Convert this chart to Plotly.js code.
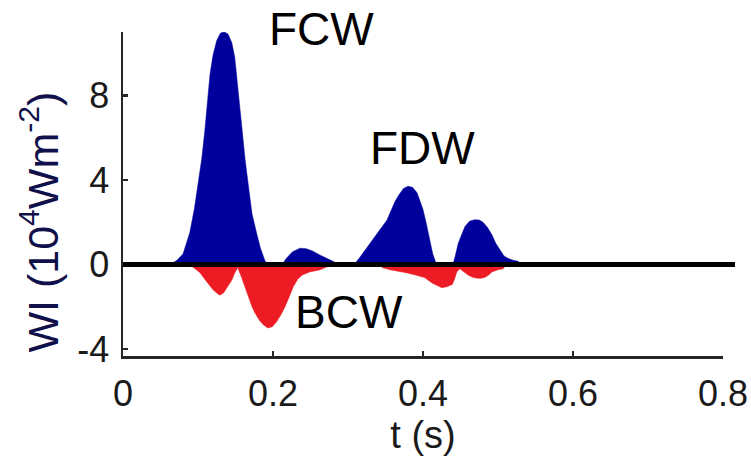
<!DOCTYPE html>
<html>
<head>
<meta charset="utf-8">
<script src="https://cdn.plot.ly/plotly-3.0.1.min.js"></script>
<style>html,body{margin:0;padding:0;background:#fff;}#chart{width:751px;height:466px;}</style>
</head>
<body>
<div id="chart"></div>
<script>
// Forward waves (positive, blue)
const tForward = [0.0,0.06,0.065,0.072,0.08,0.089,0.095,0.1,0.105,0.109,0.113,0.116,0.12,0.125,0.13,0.135,0.14,0.145,0.149,0.153,0.156,0.16,0.163,0.168,0.172,0.178,0.183,0.189,0.193,0.212,0.218,0.226,0.236,0.244,0.252,0.263,0.272,0.28,0.287,0.308,0.315,0.324,0.333,0.342,0.352,0.358,0.363,0.368,0.374,0.38,0.386,0.392,0.397,0.4,0.404,0.407,0.41,0.413,0.418,0.44,0.443,0.447,0.452,0.456,0.462,0.469,0.475,0.48,0.486,0.492,0.497,0.503,0.508,0.513,0.52,0.527,0.53];
const wiForward = [0,0,0.05,0.2,0.5,1.5,2.6,3.8,5.0,6.3,7.8,9.0,9.9,10.6,10.95,11.0,10.9,10.5,9.8,8.4,7.1,5.9,4.9,3.5,2.4,1.5,0.8,0.2,0,0,0.3,0.6,0.77,0.75,0.65,0.44,0.3,0.15,0,0,0.3,0.75,1.2,1.65,2.1,2.6,3.0,3.3,3.6,3.7,3.65,3.4,2.95,2.6,2.0,1.5,1.0,0.5,0,0,0.4,1.0,1.45,1.8,2.05,2.12,2.1,2.0,1.75,1.4,1.0,0.7,0.4,0.3,0.2,0.15,0];
// Backward waves (negative, red)
const tBackward = [0.085,0.09,0.096,0.103,0.108,0.113,0.12,0.125,0.129,0.134,0.14,0.145,0.149,0.153,0.158,0.163,0.167,0.172,0.176,0.182,0.187,0.193,0.199,0.205,0.211,0.216,0.222,0.227,0.233,0.239,0.249,0.263,0.273,0.278,0.342,0.346,0.356,0.368,0.379,0.39,0.396,0.402,0.407,0.413,0.419,0.425,0.432,0.439,0.442,0.445,0.449,0.454,0.46,0.466,0.472,0.478,0.483,0.488,0.492,0.5,0.507,0.511];
const wiBackward = [0,-0.05,-0.2,-0.4,-0.65,-0.9,-1.2,-1.35,-1.45,-1.35,-1.05,-0.75,-0.4,-0.15,-0.6,-1.1,-1.55,-2.0,-2.3,-2.65,-2.85,-3.0,-2.95,-2.7,-2.35,-2.0,-1.5,-1.05,-0.7,-0.5,-0.35,-0.25,-0.1,0,0,-0.15,-0.25,-0.32,-0.4,-0.5,-0.55,-0.62,-0.75,-0.9,-1.0,-1.1,-1.05,-0.95,-0.7,-0.35,-0.2,-0.35,-0.5,-0.6,-0.65,-0.65,-0.6,-0.48,-0.35,-0.25,-0.2,0];
// Axis ticks
const xTicks = [0, 0.2, 0.4, 0.6, 0.8];
const xTickLabels = ['0', '0.2', '0.4', '0.6', '0.8'];
const yTicks = [-4, 0, 4, 8];
const yTickLabels = ['-4', '0', '4', '8'];
// Wave labels
const labelText = ['FCW', 'FDW', 'BCW'];
const labelT = [0.265, 0.399, 0.301];
const labelWI = [11.16, 5.5, -2.25];

const FONT = 'Liberation Sans, Arial, Helvetica, sans-serif';
const AXC = '#262626';
const X_RANGE = [0, 0.8];
const Y_RANGE = [-4.33, 11];

const traces = [
  {x: tForward, y: wiForward, type: 'scatter', mode: 'lines', fill: 'tozeroy',
   fillcolor: '#00009C', line: {color: '#00009C', width: 0.5}, hoverinfo: 'skip'},
  {x: tBackward, y: wiBackward, type: 'scatter', mode: 'lines', fill: 'tozeroy',
   fillcolor: '#ED1C24', line: {color: '#ED1C24', width: 0.5}, hoverinfo: 'skip'}
];

// labels placed in paper space (computed from data values) so the one above the top is not hidden
const toPaperX = v => (v - X_RANGE[0]) / (X_RANGE[1] - X_RANGE[0]);
const toPaperY = v => (v - Y_RANGE[0]) / (Y_RANGE[1] - Y_RANGE[0]);

const annotations = labelText.map((t, i) => ({
  text: t, x: toPaperX(labelT[i]), y: toPaperY(labelWI[i]), xref: 'paper', yref: 'paper',
  showarrow: false, font: {size: 46, family: FONT, color: '#000'},
  xanchor: 'center', yanchor: 'middle'
}));
annotations.push({
  text: 'WI (10<sup>4</sup>Wm<sup>-2</sup>)', textangle: -90,
  x: -0.14, y: 0.415, xref: 'paper', yref: 'paper', showarrow: false,
  xanchor: 'center', yanchor: 'middle',
  font: {size: 43, family: FONT, color: '#10104a'}
});

const layout = {
  width: 751, height: 466,
  margin: {l: 123, r: 28, t: 32, b: 110, pad: 0},
  paper_bgcolor: '#fff', plot_bgcolor: '#fff',
  showlegend: false,
  font: {family: FONT, color: '#1a1a1a'},
  xaxis: {
    range: X_RANGE, tickvals: xTicks, ticktext: xTickLabels,
    showgrid: false, zeroline: false,
    showline: true, linecolor: AXC, linewidth: 2.5,
    ticks: 'inside', ticklen: 5, tickwidth: 2.5, tickcolor: AXC,
    tickfont: {size: 36, family: FONT, color: '#1a1a1a'},
    ticklabelstandoff: 4,
    title: {text: 't (s)', font: {size: 38, family: FONT, color: '#1a1a1a'}, standoff: 2}
  },
  yaxis: {
    range: Y_RANGE, tickvals: yTicks, ticktext: yTickLabels,
    showgrid: false, zeroline: false,
    showline: true, linecolor: AXC, linewidth: 2.5,
    ticks: 'inside', ticklen: 5, tickwidth: 2.5, tickcolor: AXC,
    tickfont: {size: 36, family: FONT, color: '#1a1a1a'},
    ticklabelstandoff: 4
  },
  shapes: [
    {type: 'line', xref: 'paper', yref: 'y', x0: 0, x1: 1.02, y0: 0, y1: 0,
     line: {color: '#000', width: 5}, layer: 'above'}
  ],
  annotations: annotations
};

Plotly.newPlot('chart', traces, layout, {displayModeBar: false, staticPlot: true});
</script>
</body>
</html>
